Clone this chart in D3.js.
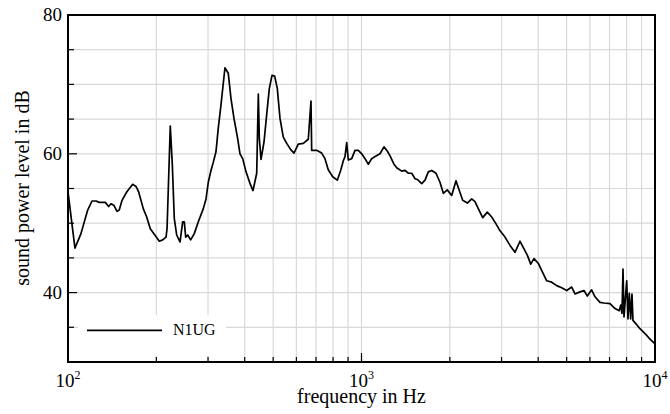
<!DOCTYPE html>
<html>
<head>
<meta charset="utf-8">
<script src="https://cdn.jsdelivr.net/npm/d3@7"></script>
<style>
  body { margin: 0; background: #fff; }
  svg { display: block; font-family: "Liberation Serif", "Times New Roman", serif; }
</style>
</head>
<body>
<svg id="chart" width="670" height="414"></svg>
<script>
// spectrum (Hz, dB)
const freq = [
  100, 105.6, 110.7, 116.7, 120.7, 124.6, 127.8, 134.0, 137.6, 140.1,
  143.2, 146.9, 149.5, 152.8, 158.5, 166.1, 170.5, 174.1, 180.5, 185.4,
  190.7, 196.8, 204.7, 210.2, 215.8, 217.5, 219.7, 223.1, 226.7, 230.2,
  234.6, 240.8, 245.9, 249.0, 251.8, 255.7, 261.8, 269.3, 278.0, 289.1,
  295.3, 300.6, 307.0, 312.7, 319.3, 325.1, 332.0, 342.6, 351.6, 359.1,
  367.7, 378.5, 385.5, 393.7, 404.2, 417.1, 426.9, 439.5, 445.1, 448.6,
  454.6, 465.4, 477.5, 485.2, 495.5, 506.1, 516.6, 527.6, 541.4, 556.2,
  573.9, 588.8, 609.0, 633.4, 658.7, 672.8, 676.5, 703.6, 731.7, 750.8,
  770.5, 797.6, 827.0, 849.2, 867.0, 878.6, 890.4, 901.6, 926.0, 950.2,
  975.2, 1002, 1028, 1055, 1083, 1121, 1156, 1193, 1224, 1251,
  1290, 1318, 1371, 1407, 1444, 1483, 1522, 1549, 1604, 1646,
  1689, 1735, 1794, 1851, 1900, 1960, 2029, 2099, 2154, 2212,
  2294, 2374, 2436, 2500, 2588, 2683, 2777, 2873, 2965, 3083,
  3206, 3334, 3467, 3578, 3672, 3772, 3870, 4004, 4164, 4276,
  4446, 4624, 4810, 5003, 5202, 5339, 5552, 5730, 5880, 6084,
  6245, 6494, 6701, 7026, 7306, 7557, 7640, 7719, 7780, 7841,
  8009, 8091, 8174, 8263, 8347, 8413, 8615, 8889, 9245, 9616,
  10000
];
const level = [
  54.5, 46.4, 48.5, 51.9, 53.2, 53.2, 53.0, 53.0, 52.4, 52.8,
  52.6, 51.7, 51.9, 53.3, 54.5, 55.6, 55.3, 54.5, 52.1, 50.9,
  49.2, 48.4, 47.4, 47.6, 48.0, 49.2, 55.0, 64.0, 58.4, 50.7,
  48.3, 47.3, 50.2, 50.2, 48.0, 48.3, 47.6, 48.5, 50.2, 52.1,
  53.5, 55.9, 57.6, 58.8, 60.3, 63.7, 67.0, 72.4, 71.6, 68.0,
  65.1, 62.2, 60.0, 59.3, 57.4, 55.7, 54.7, 57.2, 68.6, 62.2,
  59.2, 61.7, 66.5, 69.4, 71.3, 71.2, 69.4, 65.1, 62.4, 61.5,
  60.6, 60.1, 61.4, 61.5, 62.1, 67.6, 60.5, 60.5, 60.1, 59.3,
  57.7, 56.7, 56.2, 57.6, 59.0, 59.6, 61.6, 59.1, 59.3, 60.5,
  60.5, 60.0, 59.3, 58.5, 59.3, 59.7, 60.0, 61.0, 60.4, 59.7,
  58.5, 58.0, 57.5, 57.6, 57.2, 57.2, 56.4, 56.3, 55.7, 56.2,
  57.4, 57.6, 57.2, 55.9, 54.3, 54.8, 54.0, 56.1, 54.7, 53.3,
  52.9, 53.5, 53.1, 52.1, 50.8, 51.6, 50.9, 49.9, 48.9, 48.0,
  46.8, 45.8, 47.4, 46.3, 45.4, 44.1, 44.9, 44.2, 42.7, 41.7,
  41.5, 41.0, 40.7, 40.3, 40.8, 39.8, 40.1, 40.3, 39.5, 40.4,
  39.4, 38.6, 38.5, 38.4, 37.7, 37.4, 38.2, 37.0, 43.4, 36.5,
  41.7, 36.2, 39.9, 36.2, 39.8, 36.0, 35.5, 34.8, 34.1, 33.3,
  32.6
];
const seriesName = "N1UG";
const yTicks = [40, 60, 80];
const xTicks = [100, 1000, 10000];
const xLabel = "frequency in Hz";
const yLabel = "sound power level in dB";

const data = freq.map((f, i) => ({ f, v: level[i] }));

const margin = { top: 15, right: 15, bottom: 52, left: 68 },
  width = 670,
  height = 414,
  w = width - margin.left - margin.right,
  h = height - margin.top - margin.bottom;

const svg = d3.select("#chart");
const g = svg
  .append("g")
  .attr("transform", `translate(${margin.left},${margin.top})`);

const x = d3.scaleLog().domain([100, 10000]).range([0, w]);
const y = d3.scaleLinear().domain([30, 80]).range([h, 0]);

// grid
const xGrid = [];
for (let d = 100; d < 10000; d *= 10)
  for (let k = 2; k <= 10; k++) if (d * k < 10000) xGrid.push(d * k);
const yGrid = d3.range(35, 80, 5);

g.append("g")
  .selectAll("line")
  .data(xGrid)
  .join("line")
  .attr("x1", (d) => x(d))
  .attr("x2", (d) => x(d))
  .attr("y1", 0)
  .attr("y2", h)
  .attr("stroke", "#d9d9d9")
  .attr("stroke-width", 1.2);
g.append("g")
  .selectAll("line")
  .data(yGrid)
  .join("line")
  .attr("x1", 0)
  .attr("x2", w)
  .attr("y1", (d) => y(d))
  .attr("y2", (d) => y(d))
  .attr("stroke", "#d9d9d9")
  .attr("stroke-width", 1.2);

// inner ticks
g.append("g")
  .selectAll("line")
  .data(d3.range(35, 80, 5))
  .join("line")
  .attr("x1", 0)
  .attr("x2", (d) => (yTicks.includes(d) ? 9 : 6))
  .attr("y1", (d) => y(d))
  .attr("y2", (d) => y(d))
  .attr("stroke", "#000")
  .attr("stroke-width", 1.2);
g.append("g")
  .selectAll("line")
  .data(xGrid)
  .join("line")
  .attr("x1", (d) => x(d))
  .attr("x2", (d) => x(d))
  .attr("y1", h)
  .attr("y2", (d) => h - (xTicks.includes(d) ? 9 : 5))
  .attr("stroke", "#000")
  .attr("stroke-width", 1.2);

// curve
const line = d3
  .line()
  .x((d) => x(d.f))
  .y((d) => y(d.v));
g.append("path")
  .datum(data)
  .attr("fill", "none")
  .attr("stroke", "#000")
  .attr("stroke-width", 1.7)
  .attr("stroke-linejoin", "round")
  .attr("d", line);

// legend
const lg = g.append("g").attr("transform", `translate(10,${y(35)})`);
lg.append("rect")
  .attr("x", 0)
  .attr("y", -12)
  .attr("width", 148)
  .attr("height", 40)
  .attr("fill", "#fff");
lg.append("line")
  .attr("x1", 9)
  .attr("x2", 84)
  .attr("y1", 3)
  .attr("y2", 3)
  .attr("stroke", "#000")
  .attr("stroke-width", 1.7);
lg.append("text")
  .attr("x", 95)
  .attr("y", 8)
  .attr("font-size", 16)
  .text(seriesName);

// frame
g.append("rect")
  .attr("width", w)
  .attr("height", h)
  .attr("fill", "none")
  .attr("stroke", "#000")
  .attr("stroke-width", 2);

// tick labels
g.append("g")
  .selectAll("text")
  .data(yTicks)
  .join("text")
  .attr("x", -6)
  .attr("y", (d) => y(d))
  .attr("dy", "0.34em")
  .attr("text-anchor", "end")
  .attr("font-size", 19)
  .text((d) => d);

const xt = g
  .append("g")
  .selectAll("text")
  .data(xTicks)
  .join("text")
  .attr("x", (d) => x(d))
  .attr("y", h + 25)
  .attr("text-anchor", "middle")
  .attr("font-size", 19);
xt.append("tspan").text("10");
xt.append("tspan")
  .attr("font-size", 12)
  .attr("dy", -8)
  .text((d) => Math.round(Math.log10(d)));

// axis titles
svg
  .append("text")
  .attr("x", margin.left + w / 2)
  .attr("y", 403)
  .attr("text-anchor", "middle")
  .attr("font-size", 20)
  .text(xLabel);
svg
  .append("text")
  .attr("transform", "translate(29,188) rotate(-90)")
  .attr("text-anchor", "middle")
  .attr("font-size", 20)
  .text(yLabel);
</script>
</body>
</html>
